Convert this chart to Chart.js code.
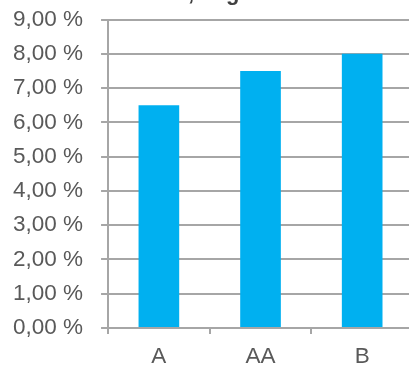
<!DOCTYPE html>
<html>
<head>
<meta charset="utf-8">
<script src="https://cdn.jsdelivr.net/npm/chart.js@4.4.0/dist/chart.umd.min.js"></script>
<style>
  html, body { margin: 0; padding: 0; background: #fff; overflow: hidden; }
  #wrap { width: 428px; height: 391px; position: absolute; left: -15px; top: -12px; }
</style>
</head>
<body>
<div id="wrap"><canvas id="chart"></canvas></div>
<script>
// ratings and their rates (%)
const categories = ['A', 'AA', 'B'];
const rates = [6.5, 7.5, 8.0];
const yTicks = [0, 1, 2, 3, 4, 5, 6, 7, 8, 9];
const titleText = 'Zinssatz, Lage';

const axisGrey = '#a6a6a6';
const labelGrey = '#595959';
const fontFamily = '"Liberation Sans", Arial, sans-serif';

// title sits mostly above the top edge, only descenders show
const topTitle = {
  id: 'topTitle',
  afterDraw(chart) {
    const ctx = chart.ctx;
    ctx.save();
    ctx.font = 'bold 22px ' + fontFamily;
    ctx.fillStyle = '#404040';
    ctx.textAlign = 'right';
    ctx.textBaseline = 'alphabetic';
    const w = ctx.measureText(', Lage').width;
    ctx.fillText(titleText, 203 + w, 12);
    ctx.restore();
  }
};

new Chart(document.getElementById('chart'), {
  type: 'bar',
  data: {
    labels: categories,
    datasets: [{
      data: rates,
      backgroundColor: '#00b0f0',
      borderWidth: 0,
      barPercentage: 0.8,
      categoryPercentage: 0.5
    }]
  },
  options: {
    responsive: true,
    maintainAspectRatio: false,
    animation: false,
    layout: { padding: { top: 8, left: 10, right: 0, bottom: 0 } },
    plugins: {
      legend: { display: false },
      title: { display: false },
      tooltip: { enabled: false }
    },
    scales: {
      x: {
        grid: {
          offset: true,
          drawOnChartArea: false,
          drawTicks: true,
          tickLength: 6,
          color: axisGrey,
          lineWidth: 2
        },
        border: { display: false },
        ticks: {
          color: labelGrey,
          padding: 9,
          font: { family: fontFamily, size: 22.5 }
        }
      },
      y: {
        min: 0,
        max: 9,
        afterBuildTicks(axis) {
          axis.ticks = yTicks.map(v => ({ value: v }));
        },
        grid: {
          color: axisGrey,
          lineWidth: 2,
          drawTicks: true,
          tickLength: 7
        },
        border: { display: true, color: axisGrey, width: 2 },
        ticks: {
          color: labelGrey,
          padding: 18,
          font: { family: fontFamily, size: 22.5 },
          callback: v => v.toFixed(2).replace('.', ',') + ' %'
        }
      }
    }
  },
  plugins: [topTitle]
});
</script>
</body>
</html>
